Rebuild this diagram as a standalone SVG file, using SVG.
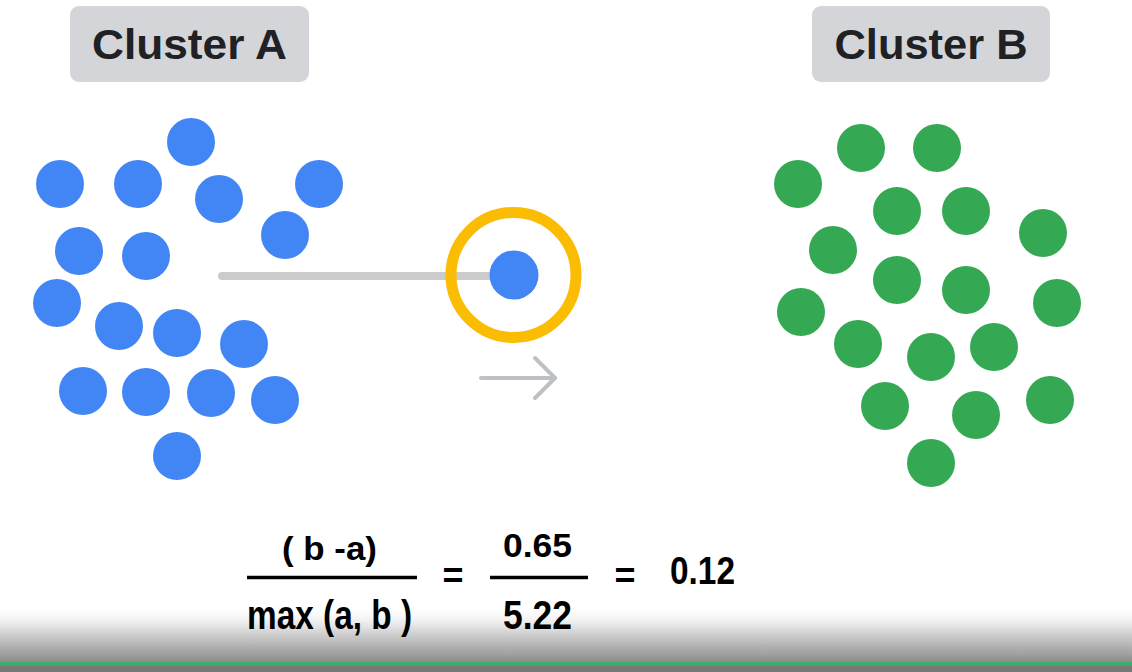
<svg xmlns="http://www.w3.org/2000/svg" width="1132" height="672" viewBox="0 0 1132 672">
  <defs>
    <style>
      .lbl { fill: #d3d5d8; }
      .lbltxt { font-family: "Liberation Sans", Arial, sans-serif; font-weight: bold; font-size: 43px; fill: #202124; text-anchor: middle; }
      .a { fill: #4285f4; }
      .b { fill: #34a853; }
      .f { font-family: "Liberation Sans", Arial, sans-serif; font-weight: bold; fill: #000; }
      .bar { stroke: #000; stroke-width: 3.5; }
    </style>
    <linearGradient id="shade" x1="0" y1="0" x2="0" y2="1">
      <stop offset="0" stop-color="#ffffff" stop-opacity="0"/>
      <stop offset="0.45" stop-color="#d8d8d8" stop-opacity="1"/>
      <stop offset="1" stop-color="#8a8a8a"/>
    </linearGradient>
  </defs>
  <rect width="1132" height="672" fill="#ffffff"/>

  <g id="label-a">
    <rect class="lbl" x="70" y="6" width="239" height="76" rx="9"/>
    <text class="lbltxt" x="189.5" y="59" textLength="195" lengthAdjust="spacingAndGlyphs">Cluster A</text>
  </g>
  <g id="label-b">
    <rect class="lbl" x="812" y="6" width="238" height="76" rx="9"/>
    <text class="lbltxt" x="931" y="59" textLength="193" lengthAdjust="spacingAndGlyphs">Cluster B</text>
  </g>

  <g id="connectors">
    <line x1="222" y1="276" x2="500" y2="276" stroke="#cacbcd" stroke-width="8" stroke-linecap="round"/>
    <g fill="none" stroke="#bdc1c6" stroke-width="4" stroke-linecap="round" stroke-linejoin="round">
      <line x1="481" y1="378" x2="555" y2="378"/>
      <polyline points="535,358 555,378 535,398"/>
    </g>
  </g>

  <g id="cluster-a">
    <circle class="a" cx="191" cy="142" r="24"/>
    <circle class="a" cx="60" cy="184" r="24"/>
    <circle class="a" cx="138" cy="184" r="24"/>
    <circle class="a" cx="219" cy="199" r="24"/>
    <circle class="a" cx="319" cy="184" r="24"/>
    <circle class="a" cx="285" cy="235" r="24"/>
    <circle class="a" cx="79" cy="251" r="24"/>
    <circle class="a" cx="146" cy="256" r="24"/>
    <circle class="a" cx="57" cy="303" r="24"/>
    <circle class="a" cx="119" cy="326" r="24"/>
    <circle class="a" cx="177" cy="333" r="24"/>
    <circle class="a" cx="244" cy="344" r="24"/>
    <circle class="a" cx="83" cy="391" r="24"/>
    <circle class="a" cx="146" cy="392" r="24"/>
    <circle class="a" cx="211" cy="393" r="24"/>
    <circle class="a" cx="275" cy="400" r="24"/>
    <circle class="a" cx="177" cy="456" r="24"/>
  </g>

  <g id="selected-point">
    <circle cx="513.5" cy="275" r="62.5" fill="none" stroke="#fbbc04" stroke-width="11"/>
    <circle class="a" cx="514" cy="275" r="24.5"/>
  </g>

  <g id="cluster-b">
    <circle class="b" cx="861" cy="148" r="24"/>
    <circle class="b" cx="937" cy="148" r="24"/>
    <circle class="b" cx="798" cy="184" r="24"/>
    <circle class="b" cx="897" cy="211" r="24"/>
    <circle class="b" cx="966" cy="211" r="24"/>
    <circle class="b" cx="1043" cy="233" r="24"/>
    <circle class="b" cx="833" cy="250" r="24"/>
    <circle class="b" cx="897" cy="280" r="24"/>
    <circle class="b" cx="966" cy="290" r="24"/>
    <circle class="b" cx="1057" cy="303" r="24"/>
    <circle class="b" cx="801" cy="312" r="24"/>
    <circle class="b" cx="858" cy="344" r="24"/>
    <circle class="b" cx="931" cy="357" r="24"/>
    <circle class="b" cx="994" cy="347" r="24"/>
    <circle class="b" cx="885" cy="406" r="24"/>
    <circle class="b" cx="976" cy="415" r="24"/>
    <circle class="b" cx="1050" cy="400" r="24"/>
    <circle class="b" cx="931" cy="463" r="24"/>
  </g>

  <rect x="0" y="604" width="1132" height="59" fill="url(#shade)"/>
  <rect x="0" y="662" width="1132" height="4" fill="#3dae6a"/>
  <rect x="0" y="666" width="1132" height="6" fill="#787878"/>

  <g id="formula">
    <text class="f" x="282" y="560" font-size="34" textLength="95" lengthAdjust="spacingAndGlyphs">( b -a)</text>
    <line class="bar" x1="247" y1="577.5" x2="417" y2="577.5"/>
    <text class="f" x="247" y="629" font-size="41" textLength="165" lengthAdjust="spacingAndGlyphs">max (a, b )</text>
    <text class="f" x="453" y="588" font-size="36" text-anchor="middle">=</text>
    <text class="f" x="503" y="557" font-size="34" textLength="69" lengthAdjust="spacingAndGlyphs">0.65</text>
    <line class="bar" x1="490" y1="577.5" x2="588" y2="577.5"/>
    <text class="f" x="503" y="629" font-size="41" textLength="69" lengthAdjust="spacingAndGlyphs">5.22</text>
    <text class="f" x="625" y="588" font-size="36" text-anchor="middle">=</text>
    <text class="f" x="670" y="584" font-size="38" textLength="65" lengthAdjust="spacingAndGlyphs">0.12</text>
  </g>
</svg>
